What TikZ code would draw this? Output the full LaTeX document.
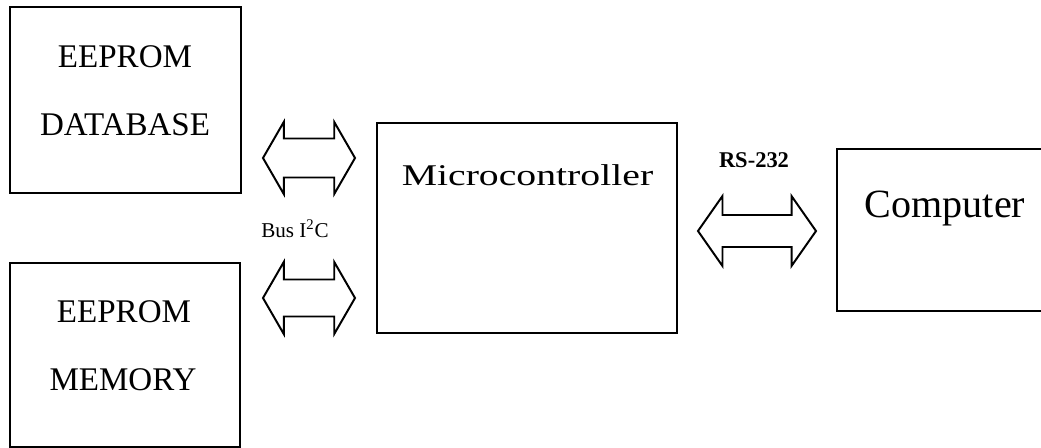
\documentclass[tikz,border=0pt]{standalone}
\usepackage{fontspec}
\setmainfont{Liberation Serif}
\newfontfamily\widefont[FakeStretch=1.32]{Liberation Serif}
\usetikzlibrary{shapes.arrows, calc}

\tikzset{
  blockbox/.style={draw, line width=0.9pt, inner sep=0pt},
  busarrow/.style={draw, double arrow, line width=1.4pt, inner sep=0pt,
    line join=miter},
  boxtext/.style={anchor=base, inner sep=0pt},
}

\begin{document}
\begin{tikzpicture}[x=0.025cm, y=-0.025cm]
      \clip (0,0) rectangle (1041,448);
      \fill[white] (0,0) rectangle (1041,448);

      % Memory chips on the I2C bus
      \node[blockbox, minimum width=5.775cm, minimum height=4.65cm] (db) at (125.5,100) {};
      \node[boxtext, font=\fontsize{23.5}{28}\selectfont] (dbtop) at (125,67) {EEPROM};
      \node[boxtext, font=\fontsize{23.5}{28}\selectfont] (dbbot) at (125,135) {DATABASE};

      \node[blockbox, minimum width=5.75cm, minimum height=4.6cm] (mem) at (125,355) {};
      \node[boxtext, font=\fontsize{23.5}{28}\selectfont] (memtop) at (124,322) {EEPROM};
      \node[boxtext, font=\fontsize{23.5}{28}\selectfont] (membot) at (123,390) {MEMORY};

      % Controller and host
      \node[blockbox, minimum width=7.5cm, minimum height=5.25cm] (mcu) at (527,228) {};
      \node[boxtext, font=\widefont\fontsize{21.4}{26}\selectfont] (mcutext) at (527.5,185) {Microcontroller};

      \node[blockbox, minimum width=5.4cm, minimum height=4.05cm] (pc) at (945,230) {};
      \node[boxtext, font=\fontsize{28.5}{34}\selectfont] (pctext) at (945,217) {Computer};

      % Bus arrows (shaft set by text height/depth)
      \node[busarrow, text height=0.4625cm, text depth=0.4625cm,
        minimum height=2.3cm, double arrow head extend=0.4125cm,
        double arrow tip angle=120] (i2ctop) at (309,158) {};
      \node[busarrow, text height=0.4375cm, text depth=0.4375cm,
        minimum height=2.3cm, double arrow head extend=0.4375cm,
        double arrow tip angle=120] (i2cbot) at (309,298) {};
      \node[boxtext, font=\fontsize{15}{18}\selectfont] (i2clabel) at (295,237) {Bus I\textsuperscript{2}C};

      \node[busarrow, text height=0.375cm, text depth=0.375cm,
        minimum height=2.95cm, double arrow head extend=0.475cm,
        double arrow tip angle=110] (serial) at (757,231) {};
      \node[boxtext, font=\bfseries\fontsize{16}{19}\selectfont] (seriallabel) at (754,167) {RS-232};
    \end{tikzpicture}
\end{document}
